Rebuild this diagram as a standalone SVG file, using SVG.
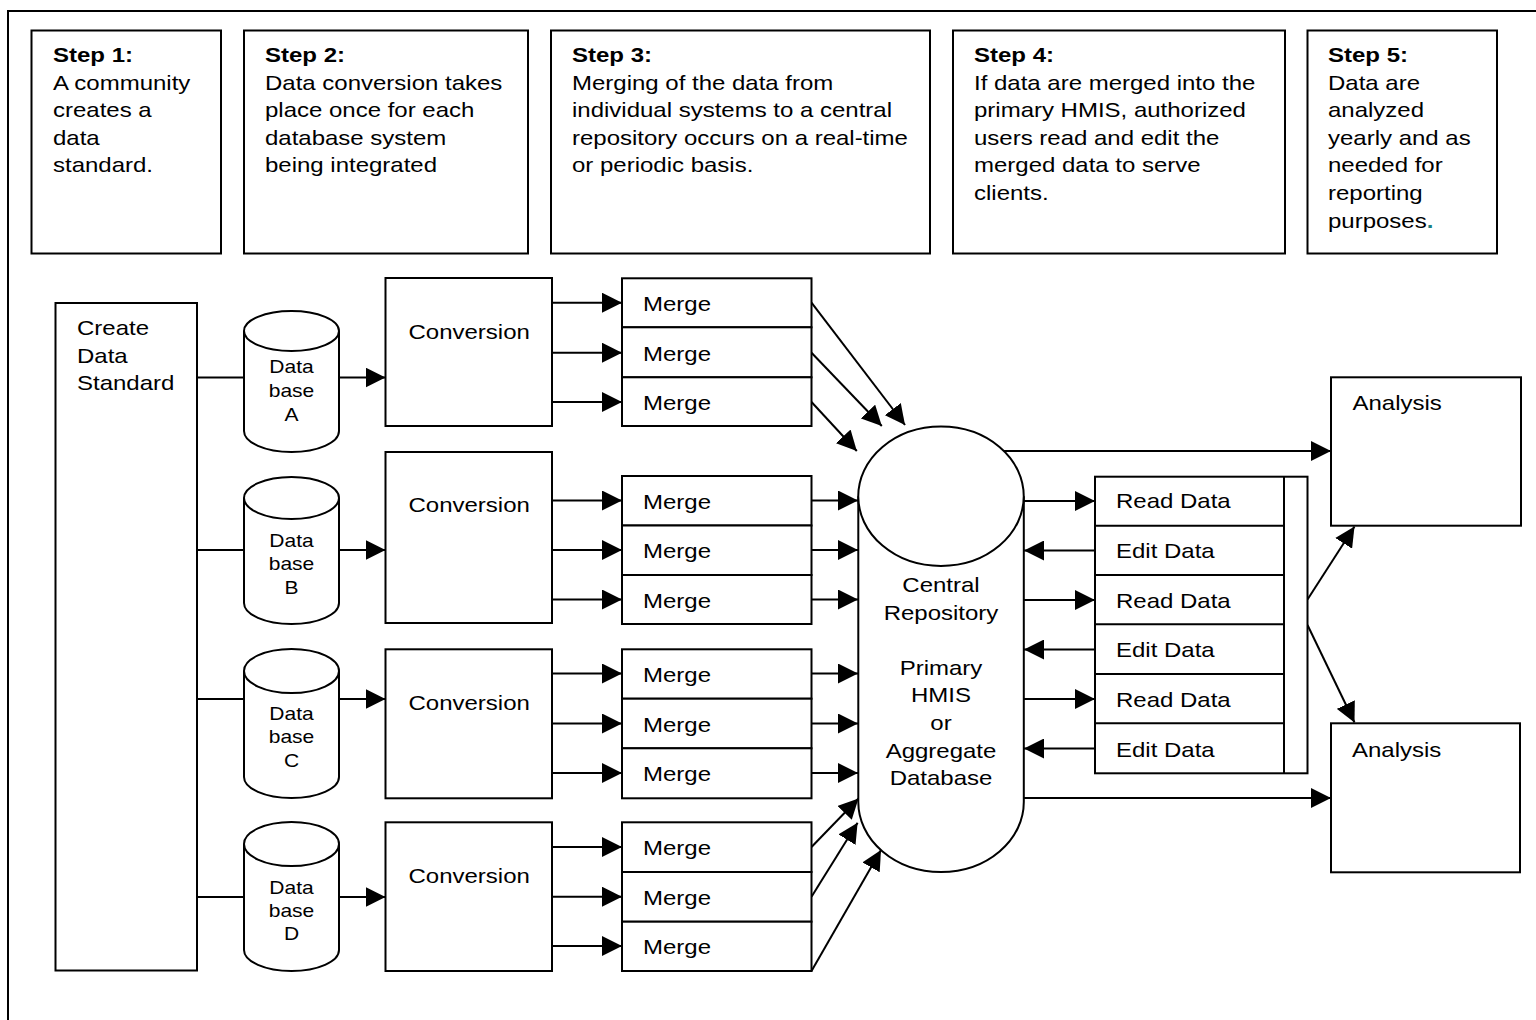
<svg xmlns="http://www.w3.org/2000/svg" width="1536" height="1020" viewBox="0 0 1536 1020">
<defs>
<style>
.box{fill:#fff;stroke:#000;stroke-width:2}
.ln{fill:none;stroke:#000;stroke-width:2}
.ar{fill:none;stroke:#000;stroke-width:2;marker-end:url(#ah)}
text{font-family:"Liberation Sans",Arial,sans-serif;font-size:20px;fill:#000}
.b{font-weight:bold}
.db{font-size:17.5px;text-anchor:middle}
.mid{text-anchor:middle}
</style>
<marker id="ah" markerUnits="userSpaceOnUse" markerWidth="20" markerHeight="20" refX="20" refY="10" orient="auto">
<path d="M0,0 L20,10 L0,20 z" fill="#000"/>
</marker>
</defs>
<rect x="0" y="0" width="1536" height="1020" fill="#fff"/>
<rect x="8" y="11" width="1560" height="1040" class="ln"/>

<g id="step1">
<rect class="box" x="31.5" y="30.5" width="189.5" height="223"/>
<text transform="matrix(1.2,0,0,1,53,62)"><tspan x="0" class="b">Step 1:</tspan><tspan x="0" dy="27.6">A community</tspan><tspan x="0" dy="27.6">creates a</tspan><tspan x="0" dy="27.6">data</tspan><tspan x="0" dy="27.6">standard.</tspan></text>
</g>
<g id="step2">
<rect class="box" x="244" y="30.5" width="284" height="223"/>
<text transform="matrix(1.2,0,0,1,265,62)"><tspan x="0" class="b">Step 2:</tspan><tspan x="0" dy="27.6">Data conversion takes</tspan><tspan x="0" dy="27.6">place once for each</tspan><tspan x="0" dy="27.6">database system</tspan><tspan x="0" dy="27.6">being integrated</tspan></text>
</g>
<g id="step3">
<rect class="box" x="551" y="30.5" width="379" height="223"/>
<text transform="matrix(1.2,0,0,1,572,62)"><tspan x="0" class="b">Step 3:</tspan><tspan x="0" dy="27.6">Merging of the data from</tspan><tspan x="0" dy="27.6">individual systems to a central</tspan><tspan x="0" dy="27.6">repository occurs on a real-time</tspan><tspan x="0" dy="27.6">or  periodic basis.</tspan></text>
</g>
<g id="step4">
<rect class="box" x="953" y="30.5" width="332" height="223"/>
<text transform="matrix(1.2,0,0,1,974,62)"><tspan x="0" class="b">Step 4:</tspan><tspan x="0" dy="27.6">If data are merged into the</tspan><tspan x="0" dy="27.6">primary HMIS, authorized</tspan><tspan x="0" dy="27.6">users read and edit the</tspan><tspan x="0" dy="27.6">merged data to serve</tspan><tspan x="0" dy="27.6">clients.</tspan></text>
</g>
<g id="step5">
<rect class="box" x="1307.5" y="30.5" width="189.5" height="223"/>
<text transform="matrix(1.2,0,0,1,1328,62)"><tspan x="0" class="b">Step 5:</tspan><tspan x="0" dy="27.6">Data are</tspan><tspan x="0" dy="27.6">analyzed</tspan><tspan x="0" dy="27.6">yearly and as</tspan><tspan x="0" dy="27.6">needed for</tspan><tspan x="0" dy="27.6">reporting</tspan><tspan x="0" dy="27.6">purposes</tspan><tspan fill="#1a8080" font-weight="bold">.</tspan></text>
</g>

<g id="connectors">
<line class="ln" x1="197" y1="377.5" x2="244" y2="377.5"/>
<line class="ln" x1="197" y1="550" x2="244" y2="550"/>
<line class="ln" x1="197" y1="699" x2="244" y2="699"/>
<line class="ln" x1="197" y1="897" x2="244" y2="897"/>
<line class="ar" x1="339" y1="377.5" x2="385.5" y2="377.5"/>
<line class="ar" x1="339" y1="550" x2="385.5" y2="550"/>
<line class="ar" x1="339" y1="699" x2="385.5" y2="699"/>
<line class="ar" x1="339" y1="897" x2="385.5" y2="897"/>
<line class="ar" x1="552" y1="302.7" x2="622" y2="302.7"/>
<line class="ar" x1="552" y1="352.7" x2="622" y2="352.7"/>
<line class="ar" x1="552" y1="402" x2="622" y2="402"/>
<line class="ar" x1="552" y1="500.5" x2="622" y2="500.5"/>
<line class="ar" x1="552" y1="550" x2="622" y2="550"/>
<line class="ar" x1="552" y1="599.5" x2="622" y2="599.5"/>
<line class="ar" x1="552" y1="673.5" x2="622" y2="673.5"/>
<line class="ar" x1="552" y1="723.5" x2="622" y2="723.5"/>
<line class="ar" x1="552" y1="773" x2="622" y2="773"/>
<line class="ar" x1="552" y1="847" x2="622" y2="847"/>
<line class="ar" x1="552" y1="896.7" x2="622" y2="896.7"/>
<line class="ar" x1="552" y1="946" x2="622" y2="946"/>
<line class="ar" x1="811.5" y1="302.7" x2="905" y2="425"/>
<line class="ar" x1="811.5" y1="352.7" x2="881.8" y2="426"/>
<line class="ar" x1="811.5" y1="402" x2="856.8" y2="451"/>
<line class="ar" x1="811.5" y1="500.5" x2="858" y2="500.5"/>
<line class="ar" x1="811.5" y1="550" x2="858" y2="550"/>
<line class="ar" x1="811.5" y1="599.5" x2="858" y2="599.5"/>
<line class="ar" x1="811.5" y1="673.5" x2="858" y2="673.5"/>
<line class="ar" x1="811.5" y1="723.5" x2="858" y2="723.5"/>
<line class="ar" x1="811.5" y1="773" x2="858" y2="773"/>
<line class="ar" x1="811.5" y1="847" x2="858.5" y2="798.5"/>
<line class="ar" x1="811.5" y1="896.7" x2="857.6" y2="822.7"/>
<line class="ar" x1="811.5" y1="971" x2="881" y2="850"/>
<line class="ar" x1="1003.5" y1="451" x2="1331" y2="451"/>
<line class="ar" x1="1024" y1="501" x2="1095" y2="501"/>
<line class="ar" x1="1024" y1="600" x2="1095" y2="600"/>
<line class="ar" x1="1024" y1="699" x2="1095" y2="699"/>
<line class="ar" x1="1095" y1="550.5" x2="1024" y2="550.5"/>
<line class="ar" x1="1095" y1="649.5" x2="1024" y2="649.5"/>
<line class="ar" x1="1095" y1="748.5" x2="1024" y2="748.5"/>
<line class="ar" x1="1024" y1="798" x2="1331" y2="798"/>
<line class="ar" x1="1307.5" y1="599.5" x2="1354.5" y2="526.5"/>
<line class="ar" x1="1307.5" y1="625" x2="1354.5" y2="722.5"/>
</g>

<g id="create-standard">
<rect class="box" x="55.5" y="303" width="141.5" height="667.5"/>
<text transform="matrix(1.2,0,0,1,77,335)"><tspan x="0">Create</tspan><tspan x="0" dy="27.6">Data</tspan><tspan x="0" dy="27.6">Standard</tspan></text>
</g>

<g id="database-a">
<path class="box" d="M244,331 L244,431 A47.5,21 0 0 0 339,431 L339,331"/>
<ellipse class="box" cx="291.5" cy="331" rx="47.5" ry="20"/>
<text class="db" transform="matrix(1.2,0,0,1,291.5,373)"><tspan x="0">Data</tspan><tspan x="0" dy="24">base</tspan><tspan x="0" dy="24">A</tspan></text>
</g>
<g id="database-b">
<path class="box" d="M244,498 L244,603 A47.5,21 0 0 0 339,603 L339,498"/>
<ellipse class="box" cx="291.5" cy="498" rx="47.5" ry="21"/>
<text class="db" transform="matrix(1.2,0,0,1,291.5,546.5)"><tspan x="0">Data</tspan><tspan x="0" dy="24">base</tspan><tspan x="0" dy="24">B</tspan></text>
</g>
<g id="database-c">
<path class="box" d="M244,671 L244,777 A47.5,21 0 0 0 339,777 L339,671"/>
<ellipse class="box" cx="291.5" cy="671" rx="47.5" ry="22"/>
<text class="db" transform="matrix(1.2,0,0,1,291.5,720)"><tspan x="0">Data</tspan><tspan x="0" dy="23.5">base</tspan><tspan x="0" dy="23.5">C</tspan></text>
</g>
<g id="database-d">
<path class="box" d="M244,844 L244,950 A47.5,21 0 0 0 339,950 L339,844"/>
<ellipse class="box" cx="291.5" cy="844" rx="47.5" ry="22"/>
<text class="db" transform="matrix(1.2,0,0,1,291.5,893.5)"><tspan x="0">Data</tspan><tspan x="0" dy="23.5">base</tspan><tspan x="0" dy="23.5">D</tspan></text>
</g>

<g id="conversion-a">
<rect class="box" x="385.5" y="278" width="166.5" height="148"/>
<text transform="matrix(1.2,0,0,1,408.5,339)">Conversion</text>
</g>
<g id="conversion-b">
<rect class="box" x="385.5" y="452" width="166.5" height="171"/>
<text transform="matrix(1.2,0,0,1,408.5,511.5)">Conversion</text>
</g>
<g id="conversion-c">
<rect class="box" x="385.5" y="649.3" width="166.5" height="149"/>
<text transform="matrix(1.2,0,0,1,408.5,710)">Conversion</text>
</g>
<g id="conversion-d">
<rect class="box" x="385.5" y="822.3" width="166.5" height="148.7"/>
<text transform="matrix(1.2,0,0,1,408.5,882.5)">Conversion</text>
</g>

<g id="merge-a">
<rect class="box" x="622" y="278.3" width="189.5" height="49"/>
<rect class="box" x="622" y="327.3" width="189.5" height="50"/>
<rect class="box" x="622" y="377.3" width="189.5" height="48.7"/>
<text transform="matrix(1.2,0,0,1,643,310.7)">Merge</text>
<text transform="matrix(1.2,0,0,1,643,360.7)">Merge</text>
<text transform="matrix(1.2,0,0,1,643,409.5)">Merge</text>
</g>
<g id="merge-b">
<rect class="box" x="622" y="476" width="189.5" height="49.5"/>
<rect class="box" x="622" y="525.5" width="189.5" height="49.5"/>
<rect class="box" x="622" y="575" width="189.5" height="49"/>
<text transform="matrix(1.2,0,0,1,643,508.5)">Merge</text>
<text transform="matrix(1.2,0,0,1,643,558)">Merge</text>
<text transform="matrix(1.2,0,0,1,643,607.5)">Merge</text>
</g>
<g id="merge-c">
<rect class="box" x="622" y="649.3" width="189.5" height="49.4"/>
<rect class="box" x="622" y="698.7" width="189.5" height="49.6"/>
<rect class="box" x="622" y="748.3" width="189.5" height="50"/>
<text transform="matrix(1.2,0,0,1,643,681.5)">Merge</text>
<text transform="matrix(1.2,0,0,1,643,731.5)">Merge</text>
<text transform="matrix(1.2,0,0,1,643,781)">Merge</text>
</g>
<g id="merge-d">
<rect class="box" x="622" y="822.3" width="189.5" height="49.7"/>
<rect class="box" x="622" y="872" width="189.5" height="49.7"/>
<rect class="box" x="622" y="921.7" width="189.5" height="49.3"/>
<text transform="matrix(1.2,0,0,1,643,855)">Merge</text>
<text transform="matrix(1.2,0,0,1,643,904.5)">Merge</text>
<text transform="matrix(1.2,0,0,1,643,954)">Merge</text>
</g>

<g id="central-repository">
<path class="box" d="M858.3,496.3 L858.3,802 A82.75,70 0 0 0 1023.8,802 L1023.8,496.3"/>
<ellipse class="box" cx="941" cy="496.3" rx="82.75" ry="69.7"/>
<text class="mid" transform="matrix(1.2,0,0,1,941,592)"><tspan x="0">Central</tspan><tspan x="0" dy="27.6">Repository</tspan><tspan x="0" dy="55.2">Primary</tspan><tspan x="0" dy="27.6">HMIS</tspan><tspan x="0" dy="27.6">or</tspan><tspan x="0" dy="27.6">Aggregate</tspan><tspan x="0" dy="27.6">Database</tspan></text>
</g>

<g id="read-edit">
<rect class="box" x="1095" y="476.7" width="212.5" height="296.6"/>
<line class="ln" x1="1284" y1="476.7" x2="1284" y2="773.3"/>
<line class="ln" x1="1095" y1="525.7" x2="1284" y2="525.7"/>
<line class="ln" x1="1095" y1="575" x2="1284" y2="575"/>
<line class="ln" x1="1095" y1="624.3" x2="1284" y2="624.3"/>
<line class="ln" x1="1095" y1="674" x2="1284" y2="674"/>
<line class="ln" x1="1095" y1="723.3" x2="1284" y2="723.3"/>
<text transform="matrix(1.2,0,0,1,1116,508.3)">Read Data</text>
<text transform="matrix(1.2,0,0,1,1116,558.3)">Edit Data</text>
<text transform="matrix(1.2,0,0,1,1116,607.7)">Read Data</text>
<text transform="matrix(1.2,0,0,1,1116,656.7)">Edit Data</text>
<text transform="matrix(1.2,0,0,1,1116,706.7)">Read Data</text>
<text transform="matrix(1.2,0,0,1,1116,756.7)">Edit Data</text>
</g>

<g id="analysis-1">
<rect class="box" x="1331" y="377.3" width="190" height="148.4"/>
<text transform="matrix(1.2,0,0,1,1352.5,410)">Analysis</text>
</g>
<g id="analysis-2">
<rect class="box" x="1331" y="723.3" width="189" height="149"/>
<text transform="matrix(1.2,0,0,1,1352,756.7)">Analysis</text>
</g>
</svg>
